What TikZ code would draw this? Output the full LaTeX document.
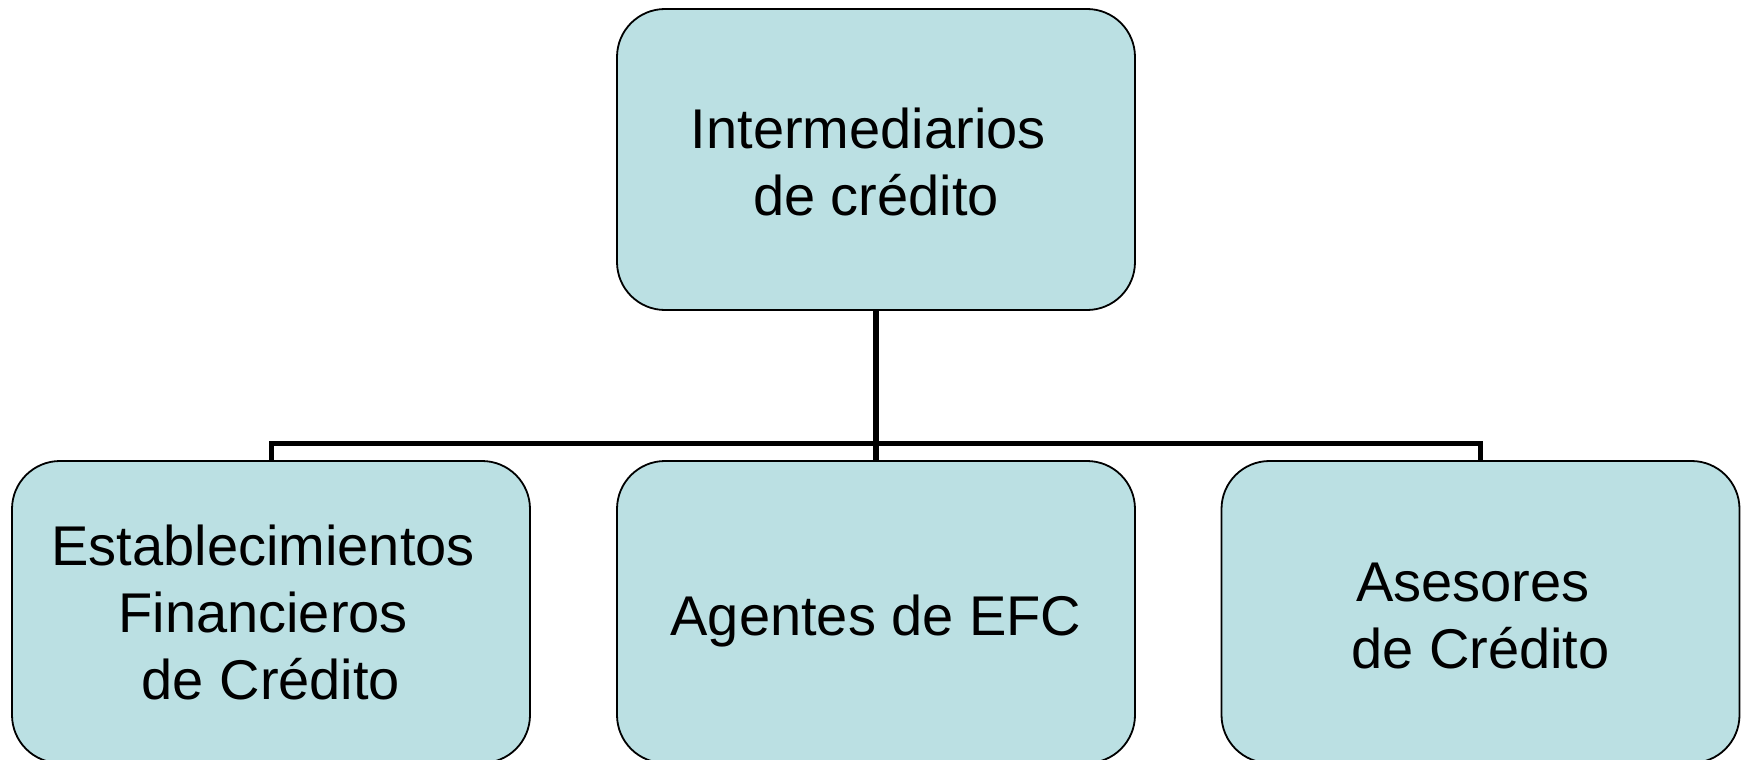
\documentclass[tikz,border=0pt]{standalone}
\usepackage{fontspec}
\setmainfont{Liberation Sans}
\definecolor{boxfill}{HTML}{BBE0E3}
\tikzset{
  orgbox/.style={draw=black, line width=1.8pt, fill=boxfill, rounded corners=48pt,
    minimum width=518pt, inner sep=0pt, align=center,
    font=\fontsize{56pt}{67pt}\selectfont},
  conn/.style={draw=black, line width=6pt}
}
\newcommand{\tsp}{\kern0.278em}
\newcommand{\boxtxt}[2]{\raisebox{#1}[0pt][0pt]{\begin{tabular}{@{}c@{}}#2\end{tabular}}}
\begin{document}
\begin{tikzpicture}[x=1pt,y=-1pt]
\useasboundingbox (0,0) rectangle (1746,760);
\node[orgbox, minimum height=301pt] (top) at (876,159.5) {\boxtxt{-15pt}{Intermediarios\tsp\\de crédito}};
\node[orgbox, minimum height=302pt] (left) at (271,612) {\boxtxt{-13pt}{Establecimientos\tsp\\Financieros\tsp\\de Crédito}};
\node[orgbox, minimum height=302pt] (mid) at (876,612) {\boxtxt{-16pt}{Agentes de EFC}};
\node[orgbox, minimum height=302pt] (right) at (1480.5,612) {\boxtxt{-16pt}{Asesores\tsp\\de Crédito}};
\coordinate (bar) at (876,443);
\draw[conn] (top.south) -- (mid.north);
\draw[conn, line width=5pt] (left.north) |- (bar) -| (right.north);
\end{tikzpicture}
\end{document}
